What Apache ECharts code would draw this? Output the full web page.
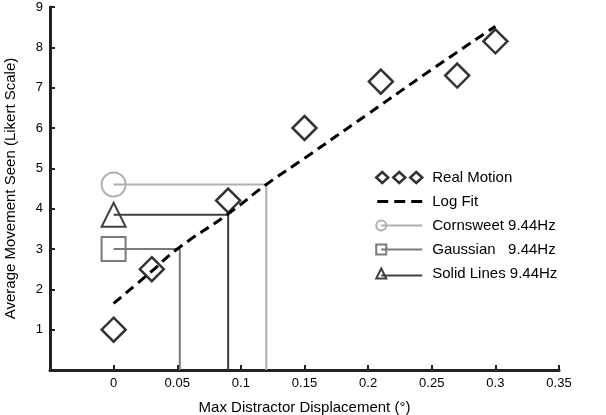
<!DOCTYPE html>
<html>
<head>
<meta charset="utf-8">
<script src="https://cdn.jsdelivr.net/npm/echarts@6/dist/echarts.min.js"></script>
<style>
  html, body { margin: 0; padding: 0; background: #fff; }
  #chart { width: 606px; height: 415px; }
</style>
</head>
<body>
<div id="chart"></div>
<script>
// values
const realMotionX = [0, 0.03, 0.09, 0.15, 0.21, 0.27, 0.3]
const realMotionY = [1.0, 2.5, 4.2, 6.0, 7.15, 7.3, 8.15]

const logFitX = [0, 0.03, 0.05, 0.09, 0.12, 0.15, 0.2, 0.25, 0.3]
const logFitY = [1.65, 2.45, 3.0, 3.87, 4.6, 5.25, 6.35, 7.45, 8.52]

// perceived motion level and matching displacement for each illusion
const cornsweet = { level: 4.6, displacement: 0.12 }
const gaussian = { level: 3.0, displacement: 0.052 }
const solidLines = { level: 3.85, displacement: 0.09 }

const xTicks = { min: -0.05, max: 0.35, step: 0.05 }
const yTicks = { min: 0, max: 9, step: 1 }

const font = '"Liberation Sans", Arial, Helvetica, sans-serif'
const axisColor = '#222'
const cornsweetColor = '#b0b0b0'
const gaussianColor = '#7a7a7a'
const solidColor = '#404040'

function zip(xs, ys) {
  return xs.map((x, i) => [x, ys[i]])
}

// marker at x=0, line across to the fit, then down to the x axis
function matchPath(item, symbol) {
  return [
    { value: [0, item.level], symbol: symbol, symbolSize: 24 },
    { value: [item.displacement, item.level], symbol: 'none' },
    { value: [item.displacement, 0], symbol: 'none' }
  ]
}

function matchSeries(name, item, symbol, color) {
  return {
    name: name,
    type: 'line',
    data: matchPath(item, symbol),
    showSymbol: true,
    lineStyle: { color: color, width: 2 },
    itemStyle: { color: 'rgba(0,0,0,0)', borderColor: color, borderWidth: 2 },
    emphasis: { disabled: true },
    z: 2
  }
}

// legend icons are 51 wide: 46px of drawing plus a blank gap before the text
const pad = ' M51 12 L51 12'

const chart = echarts.init(document.getElementById('chart'))

const option = {
  backgroundColor: '#fff',
  animation: false,
  grid: { left: 50, right: 47, top: 7, bottom: 45, outerBoundsMode: 'none' },
  legend: {
    orient: 'vertical',
    left: 375,
    top: 170,
    padding: 0,
    itemWidth: 51,
    itemHeight: 12,
    itemGap: 9,
    textStyle: { fontFamily: font, fontSize: 15, lineHeight: 15, color: '#000' },
    data: [
      {
        name: 'Real Motion',
        icon: 'path://M0 6 L6 0.5 L12 6 L6 11.5 Z M17 6 L23 0.5 L29 6 L23 11.5 Z M34 6 L40 0.5 L46 6 L40 11.5 Z M0 0 L0 0' + pad,
        itemStyle: { color: 'rgba(0,0,0,0)', borderColor: '#000', borderWidth: 2.5 }
      },
      {
        name: 'Log Fit',
        icon: 'path://M0 0 L0 0 M1 4.5 L12 4.5 L12 7.5 L1 7.5 Z M18 4.5 L29 4.5 L29 7.5 L18 7.5 Z M35 4.5 L46 4.5 L46 7.5 L35 7.5 Z' + pad,
        itemStyle: { color: '#000', borderWidth: 0 }
      },
      {
        name: 'Cornsweet 9.44Hz',
        icon: 'path://M0 6 A5 5 0 1 1 10 6 A5 5 0 1 1 0 6 Z M5 6 L46 6 M0 0 L0 0' + pad,
        itemStyle: { color: 'rgba(0,0,0,0)', borderColor: cornsweetColor, borderWidth: 2 }
      },
      {
        name: 'Gaussian   9.44Hz',
        icon: 'path://M0 1 L10 1 L10 11 L0 11 Z M5 6 L46 6 M0 0 L0 0' + pad,
        itemStyle: { color: 'rgba(0,0,0,0)', borderColor: gaussianColor, borderWidth: 2 }
      },
      {
        name: 'Solid Lines 9.44Hz',
        icon: 'path://M5 1 L10 11 L0 11 Z M5 8 L46 8 M0 0 L0 0' + pad,
        itemStyle: { color: 'rgba(0,0,0,0)', borderColor: solidColor, borderWidth: 2 }
      }
    ]
  },
  xAxis: {
    type: 'value',
    min: xTicks.min,
    max: xTicks.max,
    interval: xTicks.step,
    name: 'Max Distractor Displacement (°)',
    nameLocation: 'middle',
    nameGap: 30,
    nameTextStyle: { fontFamily: font, fontSize: 15, color: '#000' },
    axisLine: { onZero: false, lineStyle: { color: axisColor, width: 3 } },
    axisTick: { inside: true, length: 5, lineStyle: { color: axisColor, width: 2 } },
    axisLabel: {
      fontFamily: font,
      fontSize: 13,
      color: '#000',
      margin: 7,
      formatter: v => (v < -0.001 ? '' : String(+v.toFixed(2)))
    },
    splitLine: { show: false }
  },
  yAxis: {
    type: 'value',
    min: yTicks.min,
    max: yTicks.max,
    interval: yTicks.step,
    name: 'Average Movement Seen (Likert Scale)',
    nameLocation: 'middle',
    nameGap: 32,
    nameTextStyle: { fontFamily: font, fontSize: 15, color: '#000' },
    axisLine: { onZero: false, lineStyle: { color: axisColor, width: 3 } },
    axisTick: { inside: true, length: 5, lineStyle: { color: axisColor, width: 2 } },
    axisLabel: {
      fontFamily: font,
      fontSize: 13,
      color: '#000',
      margin: 7,
      formatter: v => (v === 0 ? '' : String(v))
    },
    splitLine: { show: false }
  },
  series: [
    matchSeries('Cornsweet 9.44Hz', cornsweet, 'circle', cornsweetColor),
    matchSeries('Gaussian   9.44Hz', gaussian, 'rect', gaussianColor),
    matchSeries('Solid Lines 9.44Hz', solidLines, 'triangle', solidColor),
    {
      name: 'Log Fit',
      type: 'line',
      data: zip(logFitX, logFitY),
      smooth: true,
      showSymbol: false,
      symbol: 'none',
      lineStyle: { color: '#000', width: 3, type: [10, 6] },
      emphasis: { disabled: true },
      z: 3
    },
    {
      name: 'Real Motion',
      type: 'scatter',
      data: zip(realMotionX, realMotionY),
      symbol: 'diamond',
      symbolSize: 24,
      itemStyle: { color: 'rgba(0,0,0,0)', borderColor: '#000', borderWidth: 2.5 },
      emphasis: { disabled: true },
      z: 4
    }
  ]
}

chart.setOption(option)
</script>
</body>
</html>
